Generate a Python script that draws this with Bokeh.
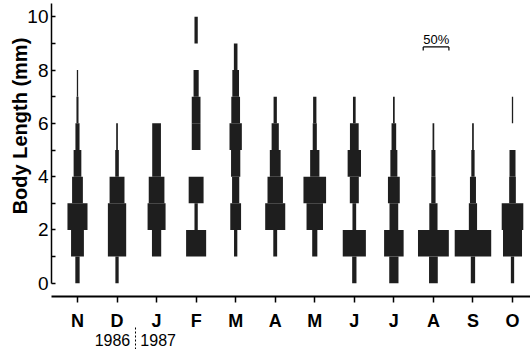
from bokeh.plotting import figure
from bokeh.models import Range1d, FixedTicker, LinearAxis, ColumnDataSource
from bokeh.core.properties import value
from bokeh.embed import file_html
from bokeh.resources import INLINE

# ---- data -------------------------------------------------------------
months = ["N", "D", "J", "F", "M", "A", "M", "J", "J", "A", "S", "O"]
bin_lower = [0, 1, 2, 3, 4, 5, 6, 7, 8, 9]          # mm, each bin is 1 mm wide
y_ticks = [0, 2, 4, 6, 8, 10]
y_minor = [1, 3, 5, 7, 9]
years = ["1986", "1987"]
year_pos = [0.885, 2.04]                             # under D and J
year_break = 1.466                                   # dashed separator
y_title = "Body Length (mm)"
scale_pct = 50                                       # scale bar (percent)

# percentage of individuals per 1-mm length class (0-1, 1-2, ... 9-10 mm)
nov_86 = [8.4, 25, 39, 21, 15, 8, 4, 2.5, 0, 0]
dec_86 = [6.4, 35.6, 35.6, 29, 7, 3.3, 0, 0, 0, 0]
jan_87 = [0, 18, 35, 30.5, 17, 17, 0, 0, 0, 0]
feb_87 = [0, 39, 6.4, 29, 0, 17, 17, 10, 0, 6.4]
mar_87 = [0, 6.4, 21, 14, 18, 24, 17, 13, 7, 0]
apr_87 = [0, 7.5, 39, 30, 21, 14, 6.4, 0, 0, 0]
may_87 = [0, 10, 32, 44, 18, 8, 6.4, 0, 0, 0]
jun_87 = [8.4, 45, 7.2, 17.5, 26, 17, 5.2, 0, 0, 0]
jul_87 = [18, 38, 17, 23, 13.6, 9, 3.3, 0, 0, 0]
aug_87 = [17, 60, 16, 8.4, 7.8, 3.3, 0, 0, 0, 0]
sep_87 = [8.4, 71, 16, 11.7, 6.4, 3.3, 0, 0, 0, 0]
oct_87 = [6.4, 37, 42, 13, 11.7, 0, 2.5, 0, 0, 0]

series = [nov_86, dec_86, jan_87, feb_87, mar_87, apr_87,
          may_87, jun_87, jul_87, aug_87, sep_87, oct_87]

# ---- styling ------------------------------------------------------------
FONT = "Liberation Sans"
INK = "#1e1e1e"
K = 0.013          # x-units per percent

xs, bottoms, tops, widths = [], [], [], []
for i, vals in enumerate(series):
    for lo, pct in zip(bin_lower, vals):
        if pct > 0:
            xs.append(i)
            bottoms.append(lo)
            tops.append(lo + 1)
            widths.append(pct * K)
src = ColumnDataSource(dict(x=xs, bottom=bottoms, top=tops, width=widths))

p = figure(width=530, height=349, output_backend="svg", toolbar_location=None,
           x_range=Range1d(-0.657, 11.455), y_range=Range1d(-0.5, 10.5),
           min_border_left=51, min_border_right=0, min_border_top=3,
           min_border_bottom=53)
p.outline_line_color = None
p.xgrid.visible = False
p.ygrid.visible = False
p.background_fill_color = "white"
p.border_fill_color = "white"

p.vbar(x="x", bottom="bottom", top="top", width="width", source=src,
       fill_color=INK, line_color=None)

# y axis
ya = p.yaxis[0]
ya.ticker = FixedTicker(ticks=y_ticks, minor_ticks=y_minor)
ya.bounds = (0, 10.5)
ya.axis_line_width = 1.5
ya.axis_line_color = "black"
ya.major_tick_in = 4
ya.major_tick_out = 0
ya.minor_tick_in = 4
ya.minor_tick_out = 0
ya.major_tick_line_width = 1.5
ya.minor_tick_line_width = 1.5
ya.major_label_standoff = 3
ya.major_label_text_font = FONT
ya.major_label_text_font_size = "19px"
ya.major_label_text_color = "black"

# y title, as a second left axis so that it can sit above the middle
title_pos = 5.9
ta = LinearAxis(ticker=FixedTicker(ticks=[title_pos], minor_ticks=[]),
                major_label_overrides={title_pos: y_title},
                major_label_orientation="vertical",
                axis_line_color=None, major_tick_line_color=None,
                minor_tick_line_color=None, major_tick_in=0, major_tick_out=0,
                major_label_standoff=-7,
                major_label_text_font=FONT, major_label_text_font_size="20px",
                major_label_text_font_style="bold",
                major_label_text_color="black")
p.add_layout(ta, "left")

# x axis
xa = p.xaxis[0]
xa.ticker = FixedTicker(ticks=list(range(len(months))), minor_ticks=[])
xa.major_label_overrides = {i: m for i, m in enumerate(months)}
xa.axis_line_width = 2
xa.axis_line_color = "black"
xa.major_tick_in = 0
xa.major_tick_out = 6
xa.major_tick_line_width = 1.5
xa.minor_tick_line_color = None
xa.major_label_standoff = 8
xa.major_label_text_font = FONT
xa.major_label_text_font_size = "18px"
xa.major_label_text_font_style = "bold"
xa.major_label_text_color = "black"

# years under the month axis, with a dashed separator
ra = LinearAxis(ticker=FixedTicker(ticks=year_pos, minor_ticks=[year_break]),
                major_label_overrides={v: t for v, t in zip(year_pos, years)},
                axis_line_color=None, major_tick_line_color=None,
                major_tick_in=0, major_tick_out=0,
                minor_tick_in=6, minor_tick_out=20,
                minor_tick_line_color="black", minor_tick_line_width=1,
                minor_tick_line_dash="2 2",
                major_label_standoff=-20,
                major_label_text_font=FONT, major_label_text_font_size="16px",
                major_label_text_color="black")
p.add_layout(ra, "below")

# 50% scale bar (bracket below the label)
bx = 9.067
half = scale_pct * K / 2
p.segment(x0=[bx - half, bx - half, bx + half],
          y0=[8.87, 8.87, 8.87],
          x1=[bx + half, bx - half, bx + half],
          y1=[8.87, 8.74, 8.74],
          line_color="black", line_width=1.2)
p.text(x=[bx - half], y=[9.16], text=[f"{scale_pct}%"], text_font=value(FONT),
       text_font_size="13px", text_align="left", text_baseline="alphabetic",
       text_color="black")

open("out.html", "w").write(file_html(p, INLINE))
